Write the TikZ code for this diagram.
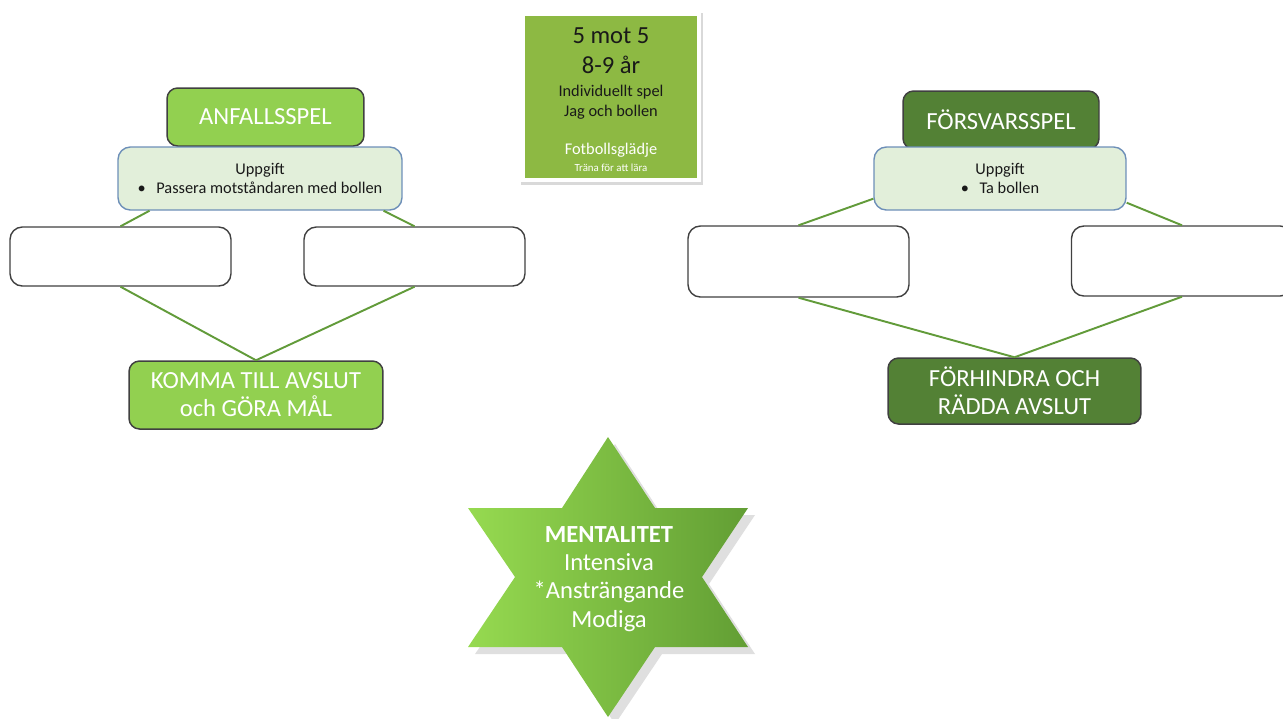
\documentclass[tikz,border=0pt]{standalone}
\usepackage{fontspec}
\setmainfont{Carlito}
\usepackage{tikz}
\usetikzlibrary{calc}
\usetikzlibrary{shadows}
\definecolor{MyGreen}{RGB}{146,208,80}
\definecolor{MyDarkGreen}{RGB}{83,129,53}
\definecolor{MyOlive}{RGB}{141,185,67}
\definecolor{MyPale}{RGB}{226,239,218}
\definecolor{MyFrame}{RGB}{109,143,184}
\definecolor{MyLine}{RGB}{98,155,58}
\definecolor{MyDarkGrey}{RGB}{64,64,64}
\definecolor{MyInk}{RGB}{25,25,25}
\definecolor{MyStarLight}{RGB}{150,218,80}
\definecolor{MyStarDark}{RGB}{98,158,52}
\newcommand{\bigsize}{\fontsize{14}{16}\selectfont}
\newcommand{\smallsize}{\fontsize{9.3}{11.3}\selectfont}
\tikzset{
  headbox/.style={draw=MyDarkGrey, line width=0.85pt, rounded corners=6pt, inner sep=0pt,
    text=white, font=\bigsize, align=center},
  taskbox/.style={draw=MyFrame, fill=MyPale, line width=0.8pt, rounded corners=7pt, inner sep=0pt,
    minimum height=1.26cm, text=MyInk, font=\smallsize, align=center},
  emptybox/.style={draw=MyDarkGrey, fill=white, line width=0.8pt, rounded corners=7pt,
    minimum width=4.42cm},
  infobox/.style={draw=white, line width=2pt, fill=MyOlive, minimum width=3.52cm, minimum height=3.32cm,
    drop shadow={opacity=.3, shadow xshift=0.5pt, shadow yshift=-1.2pt, shadow scale=1.035}},
  infotext/.style={anchor=base, inner sep=0pt},
  link/.style={draw=MyLine, line width=1.1pt},
}

\begin{document}
\begin{tikzpicture}[x=0.02cm, y=-0.02cm]
        \useasboundingbox (0,0) rectangle (1283,718);

        \node[infobox] (info) at (611,97) {};
        \node[infotext, font=\fontsize{14}{16}\selectfont, text=MyInk] (infoGame) at (611,43.5) {5 mot 5};
        \node[infotext, font=\fontsize{14}{16}\selectfont, text=MyInk] (infoAge) at (611,73) {8-9 år};
        \node[infotext, font=\smallsize, text=MyInk] (infoPlay) at (611,96.5) {Individuellt spel};
        \node[infotext, font=\smallsize, text=MyInk] (infoBall) at (611,116) {Jag och bollen};
        \node[infotext, font=\smallsize, text=white] (infoJoy) at (611,154) {Fotbollsglädje};
        \node[infotext, font=\fontsize{6.2}{7}\selectfont, text=white] (infoLearn) at (611,171) {Träna för att lära};

        \node[headbox, fill=MyGreen, minimum width=3.94cm, minimum height=1.16cm] (attackHead) at (265.5,117) {ANFALLSSPEL};
        \node[taskbox, minimum width=5.68cm] (attackTask) at (260,178.5) {Uppgift\\\textbullet\hspace{6pt}Passera motståndaren med bollen};
        \node[emptybox, minimum height=1.18cm] (attackLeft) at (120.5,256.5) {};
        \node[emptybox, minimum height=1.18cm] (attackRight) at (414.5,256.5) {};
        \node[headbox, fill=MyGreen, minimum width=5.08cm, minimum height=1.36cm] (attackGoal) at (256,395) {KOMMA TILL AVSLUT\\och GÖRA MÅL};

        \draw[link] (attackLeft.north) -- ($(attackTask.south west)!0.113!(attackTask.south east)$);
        \draw[link] (attackRight.north) -- ($(attackTask.south west)!0.933!(attackTask.south east)$);
        \draw[link] (attackLeft.south) -- (attackGoal.north);
        \draw[link] (attackRight.south) -- (attackGoal.north);

        \node[headbox, fill=MyDarkGreen, minimum width=3.92cm, minimum height=1.16cm] (defHead) at (1001,120) {FÖRSVARSSPEL};
        \node[taskbox, minimum width=5.04cm] (defTask) at (1000,178.5) {Uppgift\\\textbullet\hspace{6pt}Ta bollen};
        \node[emptybox, minimum height=1.42cm] (defLeft) at (798.5,261.5) {};
        \node[emptybox, minimum height=1.40cm] (defRight) at (1182,261) {};
        \node[headbox, fill=MyDarkGreen, minimum width=5.06cm, minimum height=1.32cm] (defGoal) at (1014.5,391) {FÖRHINDRA OCH\\RÄDDA AVSLUT};

        \draw[link] (defLeft.north) -- ($(defTask.south west)+(0,0.24cm)$);
        \draw[link] (defRight.north) -- ($(defTask.south east)+(0,0.16cm)$);
        \draw[link] (defLeft.south) -- (defGoal.north);
        \draw[link] (defRight.south) -- (defGoal.north);

        \shade[left color=MyStarLight, right color=MyStarDark, drop shadow={opacity=.25, shadow xshift=4pt, shadow yshift=-4pt}]
          (608,437) -- (655,508) -- (748,508) -- (702,577) -- (748,647) -- (655,647) -- (608,717)
          -- (562,647) -- (468,647) -- (515,577) -- (468,508) -- (562,508) -- cycle;
        \node[text=white, font=\bigsize, align=center, inner sep=0pt] (mind) at (609,579)
          {\textbf{MENTALITET}\\Intensiva\\*Ansträngande\\Modiga};
      \end{tikzpicture}
\end{document}
